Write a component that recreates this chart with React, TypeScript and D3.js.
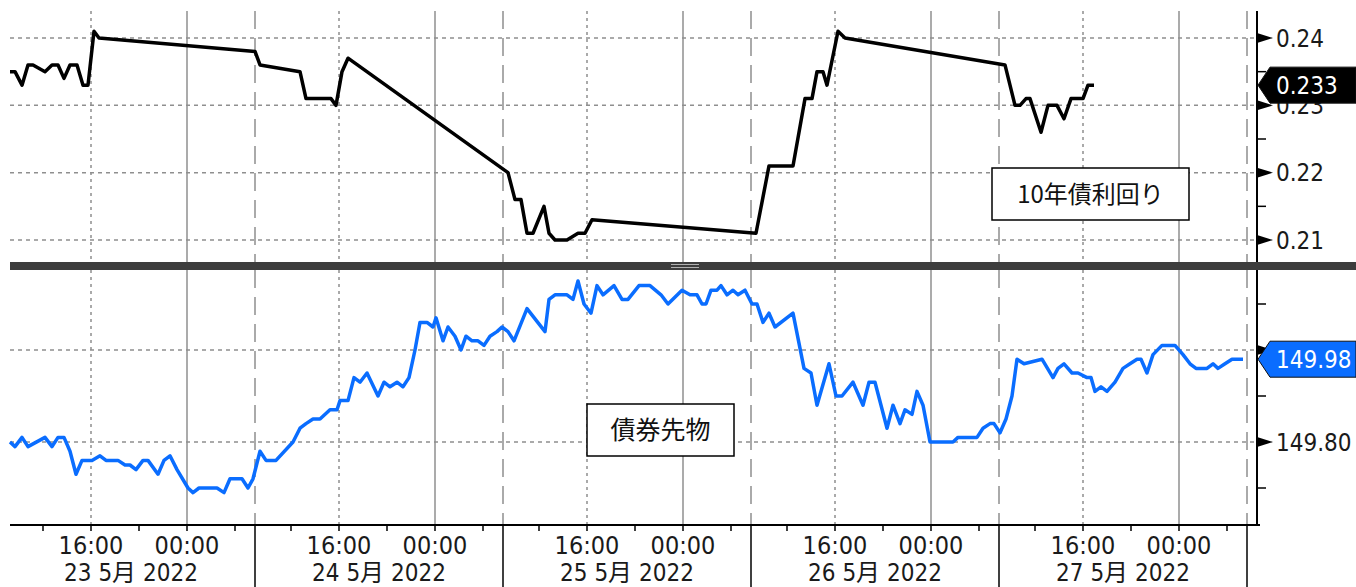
import React from "react";
import * as d3 from "d3";

// ---- Data (times in JST, "MM-DD HH:MM") ----
const yieldData: [string, number][] = [
  ["05-23 09:15", 0.235], ["05-23 09:40", 0.235], ["05-23 10:15", 0.233], ["05-23 10:45", 0.236],
  ["05-23 11:10", 0.236], ["05-23 12:10", 0.235], ["05-23 12:45", 0.236], ["05-23 13:15", 0.236],
  ["05-23 13:45", 0.234], ["05-23 14:15", 0.236], ["05-23 14:50", 0.236], ["05-23 15:20", 0.233],
  ["05-23 15:45", 0.233], ["05-23 16:15", 0.241], ["05-23 16:40", 0.240],
  ["05-24 09:00", 0.238], ["05-24 09:25", 0.236], ["05-24 12:45", 0.235], ["05-24 13:15", 0.231],
  ["05-24 15:20", 0.231], ["05-24 15:45", 0.230], ["05-24 16:15", 0.235], ["05-24 16:45", 0.237],
  ["05-25 09:25", 0.220], ["05-25 10:00", 0.216], ["05-25 10:30", 0.216], ["05-25 11:00", 0.211],
  ["05-25 11:30", 0.211], ["05-25 12:25", 0.215], ["05-25 12:50", 0.211], ["05-25 13:20", 0.210],
  ["05-25 14:20", 0.210], ["05-25 15:15", 0.211], ["05-25 15:50", 0.211], ["05-25 16:25", 0.213],
  ["05-26 09:25", 0.211], ["05-26 10:30", 0.221], ["05-26 12:30", 0.221], ["05-26 13:30", 0.231],
  ["05-26 14:05", 0.231], ["05-26 14:30", 0.235], ["05-26 15:00", 0.235], ["05-26 15:20", 0.233],
  ["05-26 16:15", 0.241], ["05-26 16:50", 0.240],
  ["05-27 09:30", 0.236], ["05-27 10:20", 0.230], ["05-27 10:45", 0.230], ["05-27 11:15", 0.231],
  ["05-27 11:35", 0.231], ["05-27 12:30", 0.226], ["05-27 13:05", 0.230], ["05-27 13:50", 0.230],
  ["05-27 14:25", 0.228], ["05-27 15:00", 0.231], ["05-27 16:00", 0.231], ["05-27 16:25", 0.233],
  ["05-27 16:55", 0.233],
];

const futuresData: [string, number][] = [
  ["05-23 09:15", 149.80], ["05-23 09:40", 149.79], ["05-23 10:15", 149.81], ["05-23 10:45", 149.79],
  ["05-23 12:10", 149.81], ["05-23 12:45", 149.79], ["05-23 13:15", 149.81], ["05-23 13:45", 149.81],
  ["05-23 14:15", 149.78], ["05-23 14:45", 149.73], ["05-23 15:15", 149.76], ["05-23 16:05", 149.76],
  ["05-23 16:45", 149.77], ["05-23 17:15", 149.76], ["05-23 18:15", 149.76], ["05-23 18:50", 149.75],
  ["05-23 19:15", 149.75], ["05-23 19:45", 149.74], ["05-23 20:20", 149.76], ["05-23 20:45", 149.76],
  ["05-23 21:35", 149.73], ["05-23 22:05", 149.76], ["05-23 22:35", 149.77], ["05-23 23:10", 149.74],
  ["05-24 00:05", 149.70], ["05-24 00:30", 149.69], ["05-24 01:00", 149.70], ["05-24 02:30", 149.70],
  ["05-24 03:05", 149.69], ["05-24 03:35", 149.72], ["05-24 04:35", 149.72], ["05-24 05:05", 149.70],
  ["05-24 05:30", 149.72],
  ["05-24 09:25", 149.78], ["05-24 09:55", 149.76], ["05-24 10:45", 149.76], ["05-24 12:10", 149.80],
  ["05-24 12:45", 149.83], ["05-24 13:15", 149.84], ["05-24 13:50", 149.85], ["05-24 14:25", 149.85],
  ["05-24 15:15", 149.87], ["05-24 15:50", 149.87], ["05-24 16:05", 149.89], ["05-24 16:45", 149.89],
  ["05-24 17:15", 149.94], ["05-24 17:45", 149.93], ["05-24 18:20", 149.95], ["05-24 19:15", 149.90],
  ["05-24 19:45", 149.93], ["05-24 20:15", 149.92], ["05-24 20:50", 149.93], ["05-24 21:20", 149.92],
  ["05-24 21:50", 149.94], ["05-24 22:20", 150.00], ["05-24 22:45", 150.06], ["05-24 23:20", 150.06],
  ["05-24 23:50", 150.05], ["05-25 00:05", 150.07], ["05-25 00:40", 150.02], ["05-25 01:05", 150.05],
  ["05-25 01:40", 150.03], ["05-25 02:10", 150.00], ["05-25 02:35", 150.03], ["05-25 03:05", 150.02],
  ["05-25 03:35", 150.02], ["05-25 04:05", 150.01], ["05-25 04:35", 150.03], ["05-25 05:10", 150.04],
  ["05-25 05:35", 150.05],
  ["05-25 09:25", 150.04], ["05-25 09:55", 150.02], ["05-25 11:00", 150.09], ["05-25 12:30", 150.04],
  ["05-25 12:50", 150.11], ["05-25 13:20", 150.12], ["05-25 14:20", 150.12], ["05-25 14:50", 150.11],
  ["05-25 15:15", 150.15], ["05-25 15:45", 150.10], ["05-25 16:20", 150.08], ["05-25 16:50", 150.14],
  ["05-25 17:20", 150.12], ["05-25 18:15", 150.14], ["05-25 18:55", 150.11], ["05-25 19:25", 150.11],
  ["05-25 20:20", 150.14], ["05-25 21:15", 150.14], ["05-25 22:10", 150.12], ["05-25 22:45", 150.10],
  ["05-25 23:55", 150.13], ["05-26 00:35", 150.12], ["05-26 01:10", 150.12], ["05-26 01:35", 150.10],
  ["05-26 01:55", 150.10], ["05-26 02:20", 150.13], ["05-26 02:50", 150.13], ["05-26 03:10", 150.14],
  ["05-26 03:40", 150.12], ["05-26 04:10", 150.13], ["05-26 04:35", 150.12], ["05-26 05:10", 150.13],
  ["05-26 09:05", 150.10], ["05-26 09:30", 150.10], ["05-26 10:00", 150.06], ["05-26 10:30", 150.08],
  ["05-26 11:00", 150.05], ["05-26 12:30", 150.08], ["05-26 13:25", 149.96], ["05-26 14:00", 149.95],
  ["05-26 14:30", 149.88], ["05-26 15:30", 149.97], ["05-26 16:05", 149.90], ["05-26 16:35", 149.90],
  ["05-26 17:30", 149.93], ["05-26 18:20", 149.88], ["05-26 18:50", 149.93], ["05-26 19:20", 149.93],
  ["05-26 20:20", 149.83], ["05-26 20:50", 149.88], ["05-26 21:25", 149.84], ["05-26 21:50", 149.87],
  ["05-26 22:25", 149.86], ["05-26 22:50", 149.91], ["05-26 23:20", 149.88], ["05-26 23:55", 149.80],
  ["05-27 01:50", 149.80], ["05-27 02:15", 149.81], ["05-27 03:50", 149.81], ["05-27 04:20", 149.83],
  ["05-27 04:55", 149.84], ["05-27 05:15", 149.84],
  ["05-27 09:05", 149.82], ["05-27 09:35", 149.85], ["05-27 10:05", 149.90], ["05-27 10:30", 149.98],
  ["05-27 11:05", 149.97], ["05-27 12:35", 149.98], ["05-27 13:30", 149.94], ["05-27 13:55", 149.96],
  ["05-27 14:25", 149.97], ["05-27 15:05", 149.95], ["05-27 15:35", 149.95], ["05-27 16:20", 149.94],
  ["05-27 16:40", 149.94], ["05-27 17:00", 149.91], ["05-27 17:30", 149.92], ["05-27 18:00", 149.91],
  ["05-27 18:40", 149.93], ["05-27 19:20", 149.96], ["05-27 19:55", 149.97], ["05-27 20:30", 149.98],
  ["05-27 20:50", 149.98], ["05-27 21:20", 149.95], ["05-27 21:50", 149.99], ["05-27 22:35", 150.01],
  ["05-27 23:05", 150.01], ["05-27 23:40", 150.01], ["05-28 00:20", 149.99], ["05-28 00:55", 149.97],
  ["05-28 01:25", 149.96], ["05-28 02:20", 149.96], ["05-28 02:50", 149.97], ["05-28 03:15", 149.96],
  ["05-28 03:50", 149.97], ["05-28 04:25", 149.98], ["05-28 05:20", 149.98],
];

const sessionDays = [23, 24, 25, 26, 27];
const dateLabels = ["23 5月 2022", "24 5月 2022", "25 5月 2022", "26 5月 2022", "27 5月 2022"];
const minorTickTimes = ["12:00", "16:00", "20:00", "00:00", "04:00"];
const labeledTickTimes = ["16:00", "00:00"];
const yieldTicks = [0.21, 0.22, 0.23, 0.24];
const yieldMinorTicks = [0.215, 0.225, 0.235];
const futuresTicks = [149.8, 150.0];
const futuresMinorTicks = [149.7, 149.9, 150.1];
const yieldTitle = "10年債利回り";
const futuresTitle = "債券先物";

// Trading session: 09:00 -> 05:40 next day
const SESSION_START = 9;
const SESSION_LEN = 24 - SESSION_START + 5 + 40 / 60;
const FIRST_DAY = 23;

function sessionHours(s: string): number {
  const [md, hm] = s.split(" ");
  const day = +md.split("-")[1];
  const [h, m] = hm.split(":").map(Number);
  const clock = h + m / 60;
  let sDay = day;
  let off = clock - SESSION_START;
  if (clock < SESSION_START) {
    sDay = day - 1;
    off = clock + 24 - SESSION_START;
  }
  return (sDay - FIRST_DAY) * SESSION_LEN + off;
}
function dayTime(dayIdx: number, hm: string): number {
  const [h, m] = hm.split(":").map(Number);
  const clock = h + m / 60;
  const off = clock < SESSION_START ? clock + 24 - SESSION_START : clock - SESSION_START;
  return dayIdx * SESSION_LEN + off;
}

const W = 1356;
const H = 587;
const L = 10;
const R = 1257;
const TOP1 = 11;
const BOT1 = 262;
const TOP2 = 270;
const BOT2 = 525;

const FONT = "'DejaVu Sans Condensed', 'DejaVu Sans', 'Noto Sans CJK JP', sans-serif";
const CJK = "'Noto Sans CJK JP', sans-serif";
const BLUE = "#0a6dff";
const GRID = "#8f8f8f";

export default function App() {
  const x = d3
    .scaleLinear()
    .domain([sessionHours("05-23 09:15"), sessionHours("05-28 09:50")])
    .range([L, R]);
  const yTop = d3.scaleLinear().domain([0.21, 0.24]).range([240, 38]);
  const yBot = d3.scaleLinear().domain([149.8, 150.0]).range([442, 350]);

  const yieldLine = d3
    .line<[string, number]>()
    .x((d) => x(sessionHours(d[0])))
    .y((d) => yTop(d[1]));
  const futLine = d3
    .line<[string, number]>()
    .x((d) => x(sessionHours(d[0])))
    .y((d) => yBot(d[1]));

  const boundaries = [1, 2, 3, 4, 5].map((i) => x(i * SESSION_LEN));
  const sixteen = sessionDays.map((_, i) => x(dayTime(i, "16:00")));
  const midnight = sessionDays.map((_, i) => x(dayTime(i, "00:00")));

  const panels = [
    [TOP1, BOT1],
    [TOP2, BOT2],
  ];

  const lastY = yieldData[yieldData.length - 1][1];
  const lastF = futuresData[futuresData.length - 1][1];

  const badge = (cy: number, fill: string, text: string) => {
    const h = 18;
    return (
      <g>
        <path
          d={`M${R + 1},${cy} L${R + 13},${cy - h} L${W},${cy - h} L${W},${cy + h} L${R + 13},${cy + h} Z`}
          fill={fill}
          stroke="#111"
          strokeWidth={1}
        />
        <text x={R + 19} y={cy + 8.5} fill="#fff" fontFamily={FONT} fontSize={24} fontStretch="condensed">
          {text}
        </text>
      </g>
    );
  };

  const arrowTick = (cy: number, key: string) => (
    <path key={key} d={`M${R},${cy - 5} L${R + 16},${cy} L${R},${cy + 5} Z`} fill="#000" />
  );

  return (
    <svg
      width={W}
      height={H}
      style={{ position: "absolute", left: 0, top: 0, background: "#fff" }}
    >
      <rect x={0} y={0} width={W} height={H} fill="#fff" />
      {/* vertical grid */}
      {panels.map(([t, b], pi) => (
        <g key={"vg" + pi}>
          {sixteen.map((px, i) => (
            <line key={"s" + i} x1={px} x2={px} y1={t} y2={b} stroke={GRID} strokeWidth={1.5} strokeDasharray="3 4" />
          ))}
          {midnight.map((px, i) => (
            <line key={"m" + i} x1={px} x2={px} y1={t} y2={b} stroke={GRID} strokeWidth={1.5} />
          ))}
          {boundaries.map((px, i) => (
            <line key={"b" + i} x1={px} x2={px} y1={t} y2={b} stroke={GRID} strokeWidth={1.5} strokeDasharray="18 9" />
          ))}
        </g>
      ))}
      {/* horizontal grid */}
      {yieldTicks.map((v) => (
        <line key={"hy" + v} x1={L} x2={R} y1={yTop(v)} y2={yTop(v)} stroke={GRID} strokeWidth={1.5} strokeDasharray="4 4" />
      ))}
      {futuresTicks.map((v) => (
        <line key={"hf" + v} x1={L} x2={R} y1={yBot(v)} y2={yBot(v)} stroke={GRID} strokeWidth={1.5} strokeDasharray="4 4" />
      ))}

      {/* labels boxes */}
      <g>
        <rect x={992} y={168} width={197} height={52} fill="#fff" stroke="#000" strokeWidth={1.5} />
        <text x={1090.5} y={203} textAnchor="middle" fontFamily={CJK} fontSize={24} fill="#111">
          {yieldTitle}
        </text>
        <rect x={587} y={404} width={147} height={52} fill="#fff" stroke="#000" strokeWidth={1.5} />
        <text x={660.5} y={439} textAnchor="middle" fontFamily={CJK} fontSize={25} fill="#111">
          {futuresTitle}
        </text>
      </g>

      {/* series */}
      <path d={yieldLine(yieldData) || ""} fill="none" stroke="#000" strokeWidth={3.5} strokeLinejoin="round" />
      <path d={futLine(futuresData) || ""} fill="none" stroke={BLUE} strokeWidth={3.5} strokeLinejoin="round" />

      {/* separator */}
      <rect x={L} y={BOT1} width={W - L} height={TOP2 - BOT1} fill="#3d3d3d" />
      <line x1={671} x2={699} y1={264.5} y2={264.5} stroke="#b0b0b0" strokeWidth={1} />
      <line x1={671} x2={699} y1={267.5} y2={267.5} stroke="#b0b0b0" strokeWidth={1} />

      {/* right axes */}
      <line x1={R} x2={R} y1={TOP1} y2={BOT1} stroke="#000" strokeWidth={2} />
      <line x1={R} x2={R} y1={TOP2} y2={BOT2} stroke="#000" strokeWidth={2} />
      {yieldMinorTicks.map((v) => (
        <line key={"ym" + v} x1={R} x2={R + 9} y1={yTop(v)} y2={yTop(v)} stroke="#000" strokeWidth={1.5} />
      ))}
      {futuresMinorTicks.map((v) => (
        <line key={"fm" + v} x1={R} x2={R + 9} y1={yBot(v)} y2={yBot(v)} stroke="#000" strokeWidth={1.5} />
      ))}
      {yieldTicks.map((v) => arrowTick(yTop(v), "ya" + v))}
      {futuresTicks.map((v) => arrowTick(yBot(v), "fa" + v))}
      {yieldTicks.map((v) => (
        <text key={"yl" + v} x={R + 19} y={yTop(v) + 8.5} fontFamily={FONT} fontSize={24} fontStretch="condensed" fill="#1a1a1a">
          {d3.format(".2f")(v)}
        </text>
      ))}
      {futuresTicks
        .filter((v) => Math.abs(yBot(v) - yBot(lastF)) > 20)
        .map((v) => (
          <text key={"fl" + v} x={R + 19} y={yBot(v) + 8.5} fontFamily={FONT} fontSize={24} fontStretch="condensed" fill="#1a1a1a">
            {d3.format(".2f")(v)}
          </text>
        ))}
      {badge(yTop(lastY), "#000", d3.format(".3f")(lastY))}
      {badge(yBot(lastF), BLUE, d3.format(".2f")(lastF))}

      {/* x axis */}
      <line x1={L} x2={R + 3} y1={BOT2} y2={BOT2} stroke="#000" strokeWidth={2} />
      {sessionDays.map((_, i) =>
        minorTickTimes.map((t) => {
          const px = x(dayTime(i, t));
          return <line key={i + t} x1={px} x2={px} y1={BOT2} y2={BOT2 + 6} stroke="#000" strokeWidth={1.5} />;
        })
      )}
      {boundaries.map((px, i) => (
        <line key={"xb" + i} x1={px} x2={px} y1={BOT2} y2={H} stroke="#000" strokeWidth={1.5} />
      ))}
      {sessionDays.map((_, i) =>
        labeledTickTimes.map((t) => (
          <text
            key={"xl" + i + t}
            x={x(dayTime(i, t))}
            y={554}
            textAnchor="middle"
            fontFamily={FONT}
            fontSize={25}
            fontStretch="condensed"
            fill="#1a1a1a"
          >
            {t}
          </text>
        ))
      )}
      {dateLabels.map((lab, i) => {
        const cx = (x(i * SESSION_LEN) + x((i + 1) * SESSION_LEN)) / 2;
        return (
          <text key={"dl" + i} x={cx} y={581} textAnchor="middle" fontFamily={FONT} fontSize={24} fontStretch="condensed" fill="#1a1a1a">
            {lab}
          </text>
        );
      })}
    </svg>
  );
}
